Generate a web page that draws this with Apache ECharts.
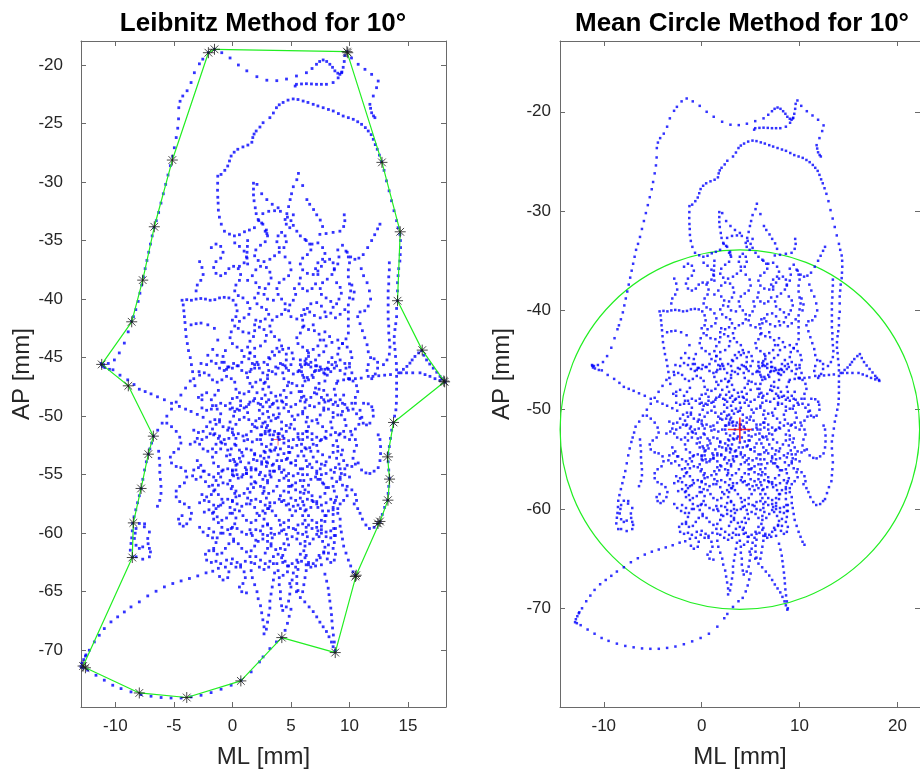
<!DOCTYPE html>
<html>
<head>
<meta charset="utf-8">
<script src="https://cdn.jsdelivr.net/npm/echarts@6/dist/echarts.min.js"></script>
<style>
html, body { margin: 0; padding: 0; background: #fff; }
#chart { width: 920px; height: 776px; }
</style>
</head>
<body>
<div id="chart"></div>
<script>
// sway path pieces: flat lists x,y,x,y,... in mm
let topArc = [-1.53,-18.66, -2.05,-18.95, -2.53,-19.5, -2.82,-19.9, -3.25,-20.66, -3.53,-21.5, -3.87,-22.2, -4.24,-22.65, -4.47,-23.1, -4.58,-23.65, -4.6,-24.6, -4.67,-25.4, -4.8,-26.2, -4.96,-27.07, -5.1,-27.8, -5.3,-28.6, -5.5,-29.4, -5.7,-30.2, -5.9,-31.0, -6.1,-31.8, -6.3,-32.6, -6.5,-33.3, -6.7,-33.9, -6.85,-34.6, -7.0,-35.3, -7.15,-36.0, -7.3,-36.7, -7.45,-37.4, -7.6,-38.1, -7.75,-38.8, -7.9,-39.5, -8.05,-40.2, -8.25,-40.9, -8.45,-41.5, -8.6,-41.9, -8.9,-42.8, -9.23,-43.76, -9.66,-44.6, -10.08,-45.2, -10.6,-45.5, -11.0,-45.6, -11.16,-45.58, -11.2,-45.5, -11.1,-45.75, -10.9,-45.85, -10.5,-46.0, -10.2,-46.04, -9.6,-46.5, -8.94,-46.9, -8.4,-47.3, -7.95,-47.7, -7.45,-47.9, -6.95,-48.1, -6.4,-48.35, -5.81,-48.6, -5.2,-48.9, -4.53,-49.17, -4.0,-49.4, -3.53,-49.6, -3.0,-49.85, -2.5,-50.1]
let topRight = [-0.91,-18.95, -0.2,-19.4, 0.51,-20.0, 1.23,-20.5, 2.09,-21.0, 2.94,-21.3, 3.79,-21.34, 4.62,-21.2, 5.47,-20.94, 6.32,-20.66, 6.8,-20.3, 7.18,-19.94, 7.45,-19.7, 7.75,-19.57, 8.05,-19.7, 8.32,-19.94, 8.55,-20.2, 8.75,-20.5, 9.0,-20.7, 9.18,-20.8, 9.35,-20.6, 9.46,-20.2, 9.55,-19.7, 9.6,-19.2, 9.78,-18.86, 10.17,-19.4, 10.74,-19.94, 11.32,-20.37, 11.89,-20.8, 12.45,-21.37, 12.31,-21.94, 12.03,-22.65, 11.74,-23.36, 11.8,-23.7, 11.89,-24.08, 12.05,-24.35, 12.17,-24.5, 9.32,-20.66, 9.03,-21.1, 8.6,-21.5, 8.03,-21.65, 7.6,-21.65, 7.18,-21.65, 6.75,-21.62, 6.32,-21.6, 5.9,-21.62, 5.47,-21.65, 5.36,-21.8]
let innerLoop = [2.5,-33.5, 1.88,-33.9, 1.45,-34.1, 1.03,-34.25, 0.6,-34.5, 0.17,-34.6, -0.25,-34.45, -0.68,-34.2, -0.95,-33.6, -1.11,-33.0, -1.2,-32.4, -1.22,-31.8, -1.25,-31.3, -1.27,-30.7, -1.26,-30.1, -1.25,-29.5, -0.97,-29.35, -0.65,-29.0, -0.4,-28.63, -0.25,-28.2, -0.11,-27.78, 0.15,-27.45, 0.46,-27.2, 0.9,-27.0, 1.32,-26.84, 1.66,-26.6, 1.74,-26.2, 1.85,-25.9, 2.03,-25.64, 2.35,-25.3, 2.62,-24.93, 3.2,-24.5, 3.5,-24.1, 3.76,-23.65, 4.0,-23.4, 4.33,-23.2, 4.75,-23.0, 5.19,-22.9, 5.6,-22.95, 6.04,-23.08, 6.45,-23.2, 6.9,-23.36, 7.3,-23.5, 7.75,-23.65, 8.2,-23.8, 8.61,-23.93, 9.05,-24.15, 9.46,-24.36, 9.9,-24.5, 10.32,-24.64, 10.7,-24.85, 11.03,-25.07, 11.35,-25.35, 11.6,-25.64, 11.85,-25.95, 12.03,-26.35, 12.2,-26.8, 12.37,-27.2, 12.55,-27.7, 12.74,-28.26, 12.95,-29.0, 13.16,-29.9, 13.38,-30.75, 13.59,-31.6, 13.8,-32.45, 14.02,-33.3, 14.15,-33.9, 14.3,-34.47, 14.35,-35.0, 14.36,-35.6, 14.33,-36.2, 14.3,-36.75, 14.2,-37.4, 14.15,-38.0, 14.1,-38.6, 14.1,-39.3, 14.1,-40.14, 14.02,-40.8, 14.02,-41.5, 13.95,-42.1, 13.88,-42.6, 13.82,-43.2, 13.82,-43.76, 13.88,-44.3, 13.93,-44.9, 14.0,-45.5, 14.02,-46.04, 14.02,-46.6, 14.02,-47.18, 14.02,-47.7, 14.02,-48.3, 14.0,-48.9, 13.96,-49.46, 13.85,-50.0, 13.73,-50.6, 13.6,-51.2, 13.5,-51.9, 13.4,-52.6, 13.3,-53.2, 13.3,-53.9, 13.35,-54.6, 13.4,-55.3, 13.35,-56.0, 13.3,-56.6, 13.25,-57.2, 13.0,-57.8, 12.8,-58.4, 12.6,-59.0]
let topKnots = [1.8,-30.1, 2.1,-30.2, 2.5,-31.0, 2.94,-31.5, 3.4,-31.9, 3.9,-32.2, 1.8,-30.6, 1.8,-31.1, 1.85,-31.6, 1.95,-32.2, 2.03,-32.7, 2.25,-33.3, 2.8,-34.2, 2.94,-34.4, 5.64,-29.26, 5.5,-29.8, 5.2,-30.4, 5.05,-31.0, 4.93,-31.5, 4.8,-32.1, 4.65,-32.7, 4.5,-33.2, 4.6,-33.6, 4.9,-33.9, 5.2,-33.7, 5.0,-33.3, 4.7,-33.0, 2.6,-32.7, 3.1,-32.5, 3.6,-32.45, 4.1,-32.5, 5.2,-32.8, 6.0,-30.3, 6.36,-31.5, 6.6,-31.9, 6.93,-32.35, 7.2,-32.8, 7.5,-33.25, 7.7,-33.8, 7.47,-34.47, 8.0,-34.4, 8.6,-34.3, 9.18,-34.2, 9.5,-33.8, 9.6,-33.3, 9.55,-32.8, 12.6,-33.6, 12.4,-34.0, 12.15,-34.5, 11.89,-35.0, 11.55,-35.6, 11.17,-36.2, 10.8,-36.5, 10.46,-36.6, 10.1,-36.4, 9.8,-36.0, 1.3,-35.0, 1.28,-35.5, 1.25,-36.0, 1.25,-36.5, 1.3,-37.0]
let rightTrip = [9.0,-47.0, 9.5,-46.9, 10.0,-46.85, 10.5,-46.8, 11.0,-46.75, 12.0,-46.6, 12.5,-46.55, 13.0,-46.5, 13.5,-46.45, 14.4,-46.3, 14.87,-46.3, 15.4,-46.3, 16.02,-46.3, 16.45,-46.45, 16.87,-46.6, 17.3,-46.8, 17.73,-46.95, 18.15,-47.1, 18.1,-47.0, 17.9,-46.8, 17.73,-46.6, 17.45,-46.25, 17.15,-45.9, 16.85,-45.55, 16.58,-45.2, 16.35,-44.8, 16.16,-44.4, 15.9,-44.6, 15.59,-44.9, 15.35,-45.2, 15.16,-45.47, 14.9,-45.75, 14.6,-46.0, 14.2,-46.3]
let rightBits = [10.7,-41.5, 10.9,-42.1, 11.1,-42.7, 11.3,-43.3, 11.5,-43.9, 11.6,-44.5, 11.8,-45.0, 12.1,-45.1, 12.4,-45.4, 12.4,-45.9, 12.2,-46.4, 11.9,-46.8, 11.6,-46.6, 11.5,-46.1, 11.6,-45.6, 13.4,-36.9, 13.4,-37.5, 13.35,-38.1, 13.35,-38.7, 13.3,-39.3, 13.3,-39.9, 13.3,-40.5, 13.3,-41.1, 13.3,-41.7, 13.35,-42.3, 13.35,-42.9, 13.4,-43.5, 13.45,-44.1, 13.4,-44.7, 13.2,-45.2, 12.9,-45.6, 10.5,-48.9, 10.9,-49.5, 11.05,-50.1, 11.17,-50.6, 11.45,-50.75, 11.74,-50.6, 12.03,-50.0, 12.0,-49.5, 11.9,-49.2, 11.6,-48.95, 11.2,-48.9, 10.74,-54.0, 11.03,-54.6, 11.4,-54.85, 11.74,-54.9, 12.1,-54.7, 12.45,-54.4, 12.6,-53.8, 12.65,-53.2, 12.65,-52.6, 12.6,-52.0, 12.45,-51.6, 9.2,-59.4, 9.3,-59.9, 9.4,-60.5, 9.5,-61.1, 9.7,-61.7, 9.9,-62.3, 10.1,-62.8, 10.3,-63.3, 10.5,-63.6, 10.4,-57.5, 10.7,-57.9, 10.9,-58.3, 11.1,-58.8, 11.4,-59.3, 11.7,-59.6, 12.1,-59.5, 12.4,-59.2, 8.6,-57.8, 8.6,-58.4, 8.6,-59.0, 8.65,-59.6, 8.7,-60.2, 8.7,-60.8, 10.2,-51.6, 10.5,-52.0, 10.6,-52.5, 10.4,-53.0, 10.3,-53.6, 10.5,-54.1, 9.8,-56.0, 10.2,-56.3, 10.5,-56.7, 10.6,-57.2]
let lowArc = [-12.93,-71.4, -12.85,-71.1, -12.7,-70.8, -12.55,-70.5, -12.75,-71.5, -12.36,-71.7, -11.65,-72.14, -10.94,-72.56, -10.22,-72.99, -9.51,-73.28, -8.66,-73.56, -7.8,-73.79, -6.95,-73.93, -6.09,-74.04, -5.24,-74.08, -4.38,-74.08, -3.53,-73.99, -2.68,-73.85, -1.82,-73.62, -0.97,-73.33, -0.11,-72.99, 0.74,-72.56, 1.6,-71.85, 2.31,-71.0, 2.62,-70.57, 3.2,-69.86, 3.76,-69.29, 4.19,-68.95, 4.5,-68.3, 4.7,-67.7, 4.85,-67.1, 5.0,-66.5]
let leftArc = [-12.5,-70.4, -12.22,-70.0, -11.79,-69.29, -11.37,-68.72, -10.94,-68.15, -10.37,-67.58, -9.8,-67.15, -9.23,-66.73, -8.66,-66.3, -7.95,-65.87, -7.23,-65.36, -6.52,-64.96, -5.81,-64.59, -5.09,-64.3, -4.38,-64.08, -3.67,-63.87, -2.96,-63.65, -2.25,-63.39, -1.68,-63.25, -1.2,-63.0]
let leftHooks = [-8.52,-59.17, -8.55,-59.8, -8.6,-60.4, -8.66,-60.88, -8.72,-61.45, -8.52,-62.02, -8.23,-62.02, -7.66,-62.22, -7.09,-62.02, -7.0,-61.6, -7.09,-61.3, -7.2,-60.9, -7.23,-60.45, -7.66,-61.17, -7.95,-61.3, -8.23,-61.03, -8.37,-60.45, -8.3,-60.0, -8.23,-59.6, -7.52,-59.46, -7.09,-59.9, -7.5,-59.2, -7.95,-59.17, -6.75,-51.71, -6.9,-52.3, -7.05,-52.8, -7.18,-53.25, -7.35,-53.9, -7.5,-54.6, -7.65,-55.4, -7.8,-56.18, -7.95,-56.8, -8.1,-57.4, -8.25,-58.0, -8.4,-58.6, -6.38,-51.2, -6.0,-50.6, -5.6,-50.0, -5.2,-49.4, -4.8,-48.8, -4.4,-48.2, -4.0,-47.6, -3.6,-47.0, -6.3,-53.0, -6.25,-53.6, -6.2,-54.2, -6.2,-54.8, -6.15,-55.4, -6.1,-56.0, -6.1,-56.6, -6.2,-57.2, -6.4,-57.7]
let fingers = [1.6,-63.2, 1.7,-63.8, 1.9,-64.4, 2.1,-65.0, 2.2,-65.6, 2.4,-66.2, 2.5,-66.8, 2.6,-67.4, 2.7,-68.0, 2.7,-68.6, 2.9,-68.2, 3.0,-67.6, 3.1,-67.0, 3.2,-66.4, 3.2,-65.8, 3.3,-65.2, 3.4,-64.6, 3.5,-64.0, 3.6,-63.4, 3.8,-62.6, 3.9,-63.2, 4.0,-63.8, 4.0,-64.4, 4.1,-65.0, 4.1,-65.6, 4.2,-66.2, 4.3,-66.6, 4.6,-66.3, 4.8,-65.8, 4.9,-65.2, 5.0,-64.6, 5.1,-64.0, 5.2,-63.4, 5.4,-62.9, 5.6,-62.5, 5.6,-63.1, 5.5,-63.7, 5.5,-64.3, 5.6,-64.9, 5.8,-65.5, 6.0,-65.0, 6.1,-64.4, 6.2,-63.8, 6.3,-63.2, 6.5,-62.7, 4.33,-63.6, 4.9,-64.3, 5.47,-65.0, 6.18,-65.87, 6.55,-66.3, 6.9,-66.7, 7.2,-67.15, 7.47,-67.6, 7.75,-68.0, 8.03,-68.4, 8.25,-68.85, 8.46,-69.3, 8.6,-69.7, 8.75,-70.14, 8.8,-70.0, 7.6,-62.7, 7.9,-63.5, 8.05,-64.1, 8.18,-64.7, 8.25,-65.25, 8.32,-65.8, 8.4,-66.4, 8.46,-66.96, 8.5,-67.5, 8.55,-68.1, 8.62,-68.7, 8.7,-69.3]
let upperA = [-4.3,-40.1, -3.9,-40.05, -3.5,-40.1, -3.1,-40.0, -2.7,-39.95, -2.3,-40.0, -1.9,-40.1, -1.5,-40.05, -1.1,-39.9, -0.7,-39.85, -0.3,-39.9, 0.06,-40.1, 0.3,-40.5, 0.4,-41.0, 0.3,-41.5, 0.0,-41.8, -4.2,-40.5, -4.15,-41.0, -4.1,-41.5, -4.05,-42.0, -4.0,-42.6, -3.95,-43.2, -3.85,-43.8, -3.75,-44.4, -3.6,-45.0, -3.5,-45.6, -3.4,-46.2, -3.3,-46.8, -3.2,-47.4, -3.53,-42.2, -3.1,-42.1, -2.68,-42.05, -2.1,-42.2, -1.54,-42.5, -1.25,-43.5, -1.68,-44.3, -2.1,-44.8, -2.68,-45.5, -2.85,-46.2, -1.3,-44.8, -0.9,-45.4, -0.5,-46.0, -0.1,-46.8, 0.3,-47.7, -1.8,-35.6, -1.4,-35.3, -1.0,-35.5, -0.8,-36.0, -1.0,-36.5, -1.4,-36.8, -1.6,-37.3, -1.4,-37.8, -1.0,-38.0, -0.6,-37.8, -0.3,-37.4, 0.1,-37.2, 0.5,-37.4, 0.7,-37.9, 0.6,-38.4, 0.3,-38.8, 0.2,-39.3, 0.5,-39.7, 0.9,-39.9, 1.3,-40.3, 1.5,-40.8, 1.4,-41.3, 1.0,-41.6, 0.6,-41.9, 0.2,-42.3, -0.1,-42.8, -0.2,-43.3, 0.0,-43.8, 0.4,-44.1, 0.8,-44.4, 1.0,-44.9, 0.8,-45.4, 0.4,-45.7, 0.0,-45.9, -0.4,-45.8, -0.7,-45.4, -0.8,-44.9, -0.6,-44.4]
let upperB = [2.2,-33.2, 2.6,-33.6, 2.9,-34.1, 3.0,-34.6, 2.8,-35.1, 2.4,-35.4, 2.0,-35.8, 1.9,-36.3, 2.2,-36.7, 2.7,-36.8, 3.2,-36.6, 3.6,-36.3, 4.0,-36.0, 4.4,-35.6, 4.6,-35.1, 4.5,-34.6, 4.2,-34.3, 3.9,-34.6, 3.8,-35.1, 4.0,-35.6, 4.5,-36.4, 4.9,-36.9, 5.0,-37.5, 4.8,-38.0, 4.4,-38.3, 4.0,-38.6, 3.8,-39.1, 3.9,-39.6, 4.2,-40.0, 4.5,-40.4, 4.5,-40.9, 4.2,-41.3, 3.8,-41.5, 3.4,-41.8, 3.2,-42.3, 3.3,-42.8, 3.6,-43.2, 4.0,-43.5, 4.2,-44.0, 4.0,-44.5, 3.6,-44.8, 3.2,-45.1, 3.0,-45.6, 3.1,-46.1, 0.5,-42.5, 0.9,-42.8, 1.4,-42.9, 1.9,-42.7, 2.3,-42.4, 2.7,-42.6, 2.9,-43.1, 2.8,-43.6, 2.4,-44.0, 1.9,-44.2, 1.5,-44.6, 1.4,-45.1, 1.7,-45.5, 2.2,-45.6, 2.7,-45.4, 3.1,-45.0, 3.4,-44.5, 3.8,-44.2, 4.3,-44.3, 4.6,-44.7, 4.6,-45.2, 4.3,-45.6, 3.9,-45.9, 3.7,-46.4, 0.2,-35.2, 0.6,-35.5, 1.0,-35.9, 1.2,-36.4, 1.0,-36.9, 0.6,-37.2, 1.3,-38.4, 1.7,-38.0, 2.0,-37.5, 2.4,-37.2, 2.9,-37.3, 3.2,-37.7, 3.3,-38.2, 3.1,-38.7, 2.8,-39.1, 2.7,-39.6, 3.0,-40.0, 3.5,-40.1]
let upperC = [5.5,-34.2, 5.8,-34.6, 6.2,-34.9, 6.6,-35.3, 6.7,-35.8, 6.4,-36.2, 6.0,-36.5, 5.8,-37.0, 6.0,-37.5, 6.4,-37.8, 6.9,-37.9, 7.3,-37.6, 7.6,-37.2, 7.9,-36.8, 8.3,-36.6, 8.6,-36.9, 8.7,-37.4, 8.5,-37.9, 8.1,-38.3, 7.7,-38.6, 7.5,-39.1, 7.6,-39.6, 8.0,-39.9, 8.4,-40.2, 8.6,-40.7, 8.4,-41.2, 8.0,-41.5, 7.5,-41.6, 7.0,-41.4, 6.6,-41.1, 6.2,-41.3, 6.0,-41.8, 6.1,-42.3, 6.5,-42.6, 7.0,-42.7, 7.4,-43.0, 7.5,-43.5, 7.3,-44.0, 6.9,-44.3, 6.5,-44.6, 6.3,-45.1, 6.5,-45.6, 9.4,-35.4, 9.7,-35.9, 9.9,-36.4, 10.0,-36.9, 9.9,-37.5, 9.9,-38.1, 10.0,-38.7, 10.1,-39.3, 10.0,-39.9, 9.9,-40.5, 9.9,-41.1, 9.9,-41.7, 9.9,-42.3, 9.9,-42.9, 9.7,-43.4, 9.4,-43.8, 9.1,-44.2, 9.0,-44.7, 9.2,-45.2, 9.6,-45.5, 10.0,-45.8, 10.2,-46.3, 10.0,-46.8, 6.3,-35.0, 6.8,-35.3, 7.3,-35.2, 7.7,-35.6, 7.9,-36.1, 7.7,-36.6, 7.3,-36.9, 7.1,-37.4, 7.3,-37.9, 8.7,-37.5, 9.0,-37.0, 9.1,-36.4, 9.0,-35.8, 10.2,-38.8, 10.4,-39.4, 10.3,-40.0, 9.6,-40.9, 9.2,-41.3, 8.8,-41.6, 7.9,-41.1, 7.6,-40.6, 7.2,-40.3, 6.7,-40.4, 6.4,-40.8, 6.9,-42.2, 7.9,-42.8, 8.3,-43.2, 8.5,-43.7, 5.3,-39.1, 5.4,-39.6, 5.2,-40.1, 4.9,-40.5, 4.8,-41.0, 5.0,-41.5, 5.5,-41.7, 5.9,-41.4, 6.1,-40.9, 6.0,-42.4, 5.8,-42.9, 5.5,-43.3, 5.6,-43.8, 6.0,-44.1, 6.4,-44.4, 6.5,-44.9, 6.2,-45.3, 5.8,-45.6, 5.7,-46.1, 6.0,-46.5, 6.4,-46.7, 6.8,-46.5, 7.1,-46.1, 7.5,-45.8, 7.9,-46.0, 8.1,-46.5, 7.9,-47.0]
let upperD = [2.0,-38.6, 2.3,-39.0, 2.2,-39.5, 1.9,-39.9, 2.1,-40.4, 2.5,-40.7, 2.9,-40.9, 3.1,-41.3, 2.8,-41.7, 2.4,-41.9, 2.0,-41.8, 1.9,-42.2, 5.8,-38.2, 5.7,-38.7, 6.0,-39.1, 6.4,-39.3, 6.8,-39.1, 7.1,-38.7, 8.9,-38.6, 9.2,-39.0, 9.3,-39.5, 9.1,-40.0, 8.9,-40.4, 11.0,-37.4, 11.2,-38.0, 11.5,-38.6, 11.7,-39.3, 11.8,-40.0, 11.6,-40.6, 11.3,-41.0, 10.9,-41.1, -2.8,-36.8, -2.6,-37.3, -2.5,-37.9, -2.7,-38.4, -3.0,-38.8, -3.1,-39.3]
let midRows = [-2.8,-46.5, -2.4,-46.3, -2.0,-46.5, -1.7,-46.9, -1.3,-47.1, -0.9,-46.9, -0.5,-46.6, 0.2,-47.1, 0.6,-48.0, 1.0,-48.1, 1.4,-47.9, 1.7,-47.5, 2.0,-47.1, 2.4,-46.9, 2.8,-47.1, 3.1,-47.5, 3.3,-48.0, 3.7,-48.3, 4.1,-48.2, 4.4,-47.8, 4.7,-47.4, 5.1,-47.2, 5.5,-47.4, 5.7,-47.9, 5.9,-48.4, 6.3,-48.6, 6.7,-48.4, 7.0,-48.0, 7.4,-47.7, 7.8,-47.8, 8.1,-48.2, 8.4,-48.6, 8.8,-48.8, 9.2,-48.6, 9.5,-48.2, 9.8,-49.3, 9.4,-49.6, 9.0,-49.9, 8.6,-49.7, 8.2,-49.4, 7.8,-49.5, 7.5,-49.9, 7.2,-50.3, 6.8,-50.4, 6.4,-50.1, 6.0,-49.8, 5.6,-49.9, 5.3,-50.3, 5.0,-50.7, 4.6,-50.8, 4.2,-50.5, 3.9,-50.1, 3.5,-49.9, 3.1,-50.1, 2.8,-50.5, 2.5,-50.9, 2.1,-51.0, 1.7,-50.7, 1.4,-50.3, 1.0,-50.1, 0.6,-50.3, 0.3,-50.7, 0.0,-51.1, -0.4,-51.2, -0.8,-50.9, -1.1,-50.5, -1.5,-50.3, -1.9,-50.5, -2.2,-50.9, -2.5,-51.3, -2.9,-51.4, -3.3,-51.2, -3.6,-52.4, -3.2,-52.2, -2.8,-52.4, -2.5,-52.8, -2.1,-53.0, -1.7,-52.8, -1.4,-52.4, -1.0,-52.2, -0.6,-52.4, -0.4,-52.9, -0.5,-53.4, -0.2,-53.8, 0.2,-53.9, 0.6,-53.6, 0.8,-53.1, 1.2,-52.8, 1.6,-52.9, 1.9,-53.3, 2.1,-53.8, 2.5,-54.1, 2.9,-53.9, 3.1,-53.5, 3.3,-53.0, 3.7,-52.7, 4.1,-52.8, 4.4,-53.2, 4.6,-53.7, 5.0,-54.0, 5.4,-53.8, 5.6,-53.4, 5.9,-53.0, 6.3,-52.8, 6.7,-53.0, 6.9,-53.5, 7.2,-53.9, 7.6,-54.1, 8.0,-53.9, 8.3,-53.5, 8.6,-53.1, 9.0,-53.0, 9.3,-53.3, 9.5,-53.8, 9.8,-54.2, 10.2,-54.3]
let lowRows = [10.0,-55.2, 9.6,-55.0, 9.2,-55.2, 8.9,-55.6, 8.6,-56.0, 8.2,-56.1, 7.8,-55.8, 7.5,-55.4, 7.1,-55.2, 6.7,-55.4, 6.5,-55.9, 6.2,-56.3, 5.8,-56.5, 5.4,-56.3, 5.1,-55.9, 4.8,-55.5, 4.4,-55.3, 4.0,-55.5, 3.8,-56.0, 3.5,-56.4, 3.1,-56.6, 2.7,-56.4, 2.4,-56.0, 2.0,-55.7, 1.6,-55.8, 1.3,-56.2, 1.0,-56.6, 0.6,-56.8, 0.2,-56.6, -0.1,-56.2, -0.4,-55.8, -0.8,-55.7, -1.2,-55.9, -1.5,-56.3, -1.8,-56.7, -2.2,-56.9, -2.6,-56.7, -2.4,-58.2, -2.0,-58.0, -1.6,-58.2, -1.3,-58.6, -0.9,-58.9, -0.5,-58.7, -0.2,-58.3, 0.2,-58.0, 0.6,-58.1, 0.9,-58.5, 1.2,-58.9, 1.6,-59.1, 2.0,-58.9, 2.3,-58.5, 2.6,-58.1, 3.0,-57.9, 3.4,-58.1, 3.7,-58.5, 4.0,-58.9, 4.4,-59.1, 4.8,-58.9, 5.1,-58.5, 5.4,-58.1, 5.8,-57.9, 6.2,-58.1, 6.5,-58.5, 6.8,-58.9, 7.2,-59.1, 7.6,-58.9, 7.9,-58.5, 8.2,-58.1, 8.6,-58.0, 9.0,-58.3, 9.2,-58.8, 8.8,-60.2, 8.4,-60.4, 8.0,-60.3, 7.6,-60.0, 7.2,-60.1, 6.9,-60.5, 6.6,-60.9, 6.2,-61.1, 5.8,-60.9, 5.5,-60.5, 5.1,-60.3, 4.7,-60.5, 4.4,-60.9, 4.1,-61.3, 3.7,-61.4, 3.3,-61.1, 3.0,-60.7, 2.6,-60.5, 2.2,-60.7, 1.9,-61.1, 1.6,-61.5, 1.2,-61.6, 0.8,-61.3, 0.5,-60.9, 0.1,-60.7, -0.3,-60.9, -0.6,-61.3, -0.9,-61.7, -1.3,-61.8, -1.6,-61.5]
let extraRows = [-2.2,-45.6, -1.8,-45.3, -1.4,-45.5, -1.1,-45.9, -0.7,-46.1, -0.3,-45.8, 0.1,-45.5, 0.5,-45.7, 0.8,-46.1, 1.2,-46.3, 1.6,-46.0, 1.9,-45.6, 2.3,-45.9, 2.6,-46.3, 3.0,-46.5, 3.4,-46.2, 3.7,-45.8, 4.1,-45.5, 4.5,-45.7, 4.8,-46.1, 5.2,-46.4, 5.6,-46.2, 5.9,-45.8, 6.3,-45.5, 6.7,-45.4, 7.1,-45.7, 7.4,-46.1, 7.8,-46.3, 8.2,-46.0, 8.5,-45.6, 8.9,-45.7, 9.2,-46.1, 9.4,-48.9, 9.0,-49.1, 8.6,-49.0, 8.2,-48.7, 7.8,-48.6, 7.4,-48.9, 7.0,-49.2, 6.6,-49.1, 6.2,-48.8, 5.8,-48.7, 5.4,-49.0, 5.0,-49.2, 4.6,-49.0, 4.2,-48.7, 3.8,-48.7, 3.4,-49.0, 2.6,-49.2, 2.2,-48.9, 1.8,-48.7, 1.4,-49.0, 1.0,-49.3, 0.6,-49.5, 0.2,-49.6, -0.2,-49.4, -0.6,-49.1, -1.0,-48.9, -1.4,-49.1, -1.8,-49.4, -2.2,-49.5, -2.6,-49.3, -3.0,-51.9, -2.6,-52.0, -2.2,-51.8, -1.9,-51.5, -1.5,-51.5, -1.1,-51.7, -0.7,-52.0, -0.3,-51.9, 0.1,-51.6, 0.5,-51.5, 0.9,-51.7, 1.3,-52.0, 1.7,-52.2, 2.1,-52.0, 2.4,-51.6, 2.8,-51.3, 3.2,-51.2, 3.6,-51.3, 4.0,-51.5, 4.4,-51.9, 4.8,-52.1, 5.2,-52.0, 5.6,-51.8, 6.0,-51.5, 6.4,-51.3, 6.8,-51.5, 7.2,-51.8, 7.6,-52.0, 8.0,-51.9, 8.4,-51.6, 8.8,-51.4, 9.2,-51.5, 9.6,-51.8, 10.0,-52.0, 9.2,-54.5, 8.8,-54.4, 8.4,-54.6, 8.0,-54.9, 7.6,-55.0, 7.2,-54.7, 6.8,-54.4, 6.4,-54.3, 6.0,-54.5, 5.6,-54.9, 5.2,-55.1, 4.8,-54.9, 4.4,-54.6, 4.0,-54.5, 3.6,-54.7, 3.2,-55.0, 2.8,-55.1, 2.4,-54.8, 2.0,-54.5, 1.6,-54.6, 1.2,-54.9, 0.8,-55.2, 0.4,-55.0, 0.0,-54.7, -0.4,-54.5, -0.8,-54.6, -1.2,-54.9, -1.6,-55.2, -2.0,-55.0, -2.4,-54.7, -2.8,-57.4, -2.4,-57.2, -2.0,-57.3, -1.6,-57.6, -1.2,-57.7, -0.8,-57.4, -0.4,-57.1, 0.0,-57.2, 0.4,-57.5, 0.8,-57.7, 1.2,-57.5, 1.6,-57.2, 2.0,-57.1, 2.4,-57.3, 2.8,-57.6, 3.2,-57.7, 3.6,-57.4, 4.0,-57.1, 4.4,-57.2, 4.8,-57.5, 5.2,-57.7, 5.6,-57.6, 6.0,-57.3, 6.4,-57.1, 6.8,-57.2, 7.2,-57.5, 7.6,-57.6, 8.0,-57.4, 8.4,-57.1, 8.8,-57.2, 8.8,-59.6, 8.4,-59.8, 8.0,-59.9, 7.6,-59.7, 7.2,-59.5, 6.8,-59.6, 5.2,-59.6, 4.8,-59.5, 4.4,-59.7, 4.0,-60.0, 3.6,-60.1, 2.0,-59.7, 1.6,-60.0, 1.2,-60.1, 0.8,-59.9, 0.4,-59.6, 0.0,-59.5, -0.4,-59.7, -0.8,-60.0, -1.6,-59.9, -2.0,-59.6, -0.5,-62.3, -0.1,-62.6, 0.3,-62.9, 0.7,-62.7, 1.1,-62.4, 1.9,-62.6, 2.3,-62.9, 2.7,-63.1, 3.1,-62.9, 3.5,-62.6, 4.3,-62.5, 4.7,-62.8, 5.1,-62.6, 5.5,-62.3, 5.9,-62.4, 6.3,-62.7, 6.7,-62.9, 7.1,-62.8]
let columns = [1.8,-43.2, 1.5,-43.6, 1.3,-44.1, 1.5,-44.6, 1.9,-44.9, 2.1,-45.4, 1.9,-45.9, 1.5,-46.2, 1.3,-46.7, 1.5,-47.2, 2.1,-48.0, 1.9,-48.5, 1.5,-48.8, 1.2,-49.2, 1.3,-49.7, 2.0,-50.4, 1.9,-50.9, 1.6,-51.3, 1.2,-51.6, 1.0,-52.1, 1.9,-53.2, 1.8,-53.7, 1.4,-54.0, 1.1,-54.4, 1.2,-54.9, 1.6,-55.2, 1.9,-55.6, 1.8,-56.1, 1.5,-56.5, 1.3,-57.0, 1.5,-57.5, 1.9,-57.8, 2.1,-58.3, 1.5,-59.7, 1.7,-60.2, 2.0,-60.6, 1.5,-62.0, 1.6,-62.5, 4.8,-44.2, 5.1,-44.6, 5.2,-45.1, 5.0,-45.6, 4.6,-45.9, 4.3,-46.3, 4.4,-46.8, 4.8,-47.1, 5.0,-48.0, 4.6,-48.4, 4.3,-48.8, 4.4,-49.3, 4.8,-49.6, 5.1,-50.0, 4.2,-51.1, 3.9,-51.5, 4.0,-52.0, 4.4,-52.3, 4.8,-52.6, 4.9,-53.1, 4.2,-53.8, 4.0,-54.3, 4.2,-54.8, 4.6,-55.1, 4.8,-56.0, 4.4,-56.4, 4.1,-56.8, 4.2,-57.3, 4.6,-57.6, 4.9,-58.0, 4.1,-59.3, 4.2,-59.8, 4.6,-60.1, 4.8,-61.0, 4.5,-61.4, 4.3,-61.9, 4.5,-62.4, 4.8,-62.8, 4.7,-63.3, 7.8,-43.5, 8.0,-44.0, 7.8,-44.5, 7.4,-44.8, 7.1,-45.2, 7.2,-45.7, 7.6,-46.0, 7.9,-46.4, 7.4,-47.2, 7.1,-47.6, 7.2,-48.1, 7.6,-48.4, 7.9,-48.8, 7.8,-49.3, 7.3,-50.6, 7.7,-50.9, 8.0,-51.3, 7.9,-51.8, 7.5,-52.1, 7.2,-52.5, 7.3,-53.0, 7.7,-53.3, 7.9,-54.2, 7.5,-54.5, 7.2,-54.9, 7.3,-55.4, 7.7,-55.7, 8.0,-56.1, 7.9,-56.6, 7.5,-56.9, 7.2,-57.3, 7.3,-57.8, 7.7,-58.1, 8.0,-58.5, 7.9,-59.0, 7.6,-59.4, 7.3,-59.8, 7.4,-60.3, 7.7,-60.7, 7.9,-61.2, 7.8,-61.7, 7.5,-62.1, -1.2,-47.8, -1.5,-48.2, -1.8,-48.6, -1.7,-49.1, -1.3,-49.4, -1.0,-49.8, -1.1,-50.3, -1.4,-50.7, -1.7,-51.1, -1.6,-51.6, -1.2,-51.9, -0.9,-52.3, -1.0,-52.8, -1.4,-53.1, -1.7,-53.5, -1.6,-54.0, -1.2,-54.3, -0.9,-54.7, -1.0,-55.2, -1.4,-55.5, -1.7,-55.9, -1.6,-56.4, -1.2,-56.7, -0.9,-57.1, -1.0,-57.6, -1.4,-57.9, -1.7,-58.3, -1.6,-58.8, -1.2,-59.1, -0.9,-59.5, -1.0,-60.0, -1.3,-60.4, 9.3,-49.9, 9.6,-50.3, 9.7,-50.8, 9.5,-51.3, 9.1,-51.6, 8.9,-52.1, 9.0,-52.6, 9.4,-52.9, 9.6,-54.5, 9.3,-54.9, 9.2,-55.4, 9.4,-55.9, 9.7,-56.3, 9.8,-56.8, 9.5,-57.2, 9.2,-57.5, 9.0,-57.9]
let extraCols = [0.1,-50.0, -0.2,-50.5, -0.3,-51.0, 0.0,-51.4, 0.3,-51.9, 0.2,-52.4, -0.1,-52.8, -0.2,-53.3, 0.1,-53.7, 0.4,-54.1, 0.3,-54.6, 0.0,-55.0, -0.2,-55.5, 0.0,-56.0, 0.3,-56.4, 0.3,-56.9, 0.0,-57.3, -0.2,-57.8, 0.0,-58.3, 0.3,-58.7, 0.2,-59.2, -0.1,-59.6, -0.2,-60.1, 0.1,-60.5, 3.0,-46.8, 2.7,-47.2, 2.6,-47.7, 2.8,-48.2, 3.1,-48.6, 2.3,-50.2, 2.6,-50.6, 2.9,-51.0, 2.7,-53.0, 2.4,-53.4, 2.5,-53.9, 2.9,-54.3, 3.2,-54.7, 3.0,-55.7, 2.7,-56.1, 2.6,-56.6, 2.9,-57.0, 3.2,-57.4, 3.1,-57.9, 2.8,-58.3, 2.7,-58.8, 3.0,-59.2, 3.4,-60.4, 3.3,-60.9, 3.0,-61.3, 2.8,-61.7, 6.2,-47.0, 6.0,-47.4, 5.9,-47.9, 6.1,-48.3, 6.2,-49.3, 6.0,-49.6, 6.3,-50.5, 6.5,-50.9, 6.3,-51.3, 6.1,-53.4, 6.3,-53.8, 6.6,-54.1, 6.4,-55.0, 6.1,-55.5, 6.0,-56.0, 6.1,-57.6, 6.0,-58.5, 6.2,-58.9, 6.5,-59.3, 6.4,-60.3, 6.2,-60.7, 6.1,-61.5, 6.3,-61.9, 8.9,-47.2, 8.7,-47.7, 8.8,-48.2, 9.6,-49.0, 9.9,-49.5, 8.6,-50.1, 8.4,-50.5, 8.5,-51.0, 8.6,-52.5, 8.9,-53.6, 9.1,-54.1, 8.7,-54.8, 8.5,-55.3, 8.7,-56.4, 8.9,-56.9, 8.7,-57.4]
let curls = [2.5,-48.5, 2.9,-48.8, 3.2,-49.2, 3.0,-49.6, 2.6,-49.8, 2.3,-49.5, 2.4,-49.0, 3.5,-48.9, 3.9,-49.3, 4.0,-49.8, 3.7,-50.2, 3.3,-50.4, 3.0,-50.8, 3.1,-51.3, 3.5,-51.6, 3.9,-51.8, 4.3,-51.7, 4.6,-51.3, 4.9,-51.0, 5.3,-51.1, 5.6,-51.5, 5.7,-52.0, 5.5,-52.5, 5.1,-52.7, 4.8,-53.1, 4.7,-53.6, 5.0,-54.0, 5.4,-54.2, 5.8,-54.5, 6.0,-55.0, 5.8,-55.5, 5.4,-55.7, 5.0,-56.0, 4.8,-56.5, 5.0,-57.0, 5.4,-57.2, 5.8,-57.0, 6.1,-56.6, 6.5,-56.5, 6.8,-56.8, 6.9,-57.3, 6.7,-57.8, 6.3,-58.0, 0.3,-52.5, 0.6,-52.9, 0.9,-53.4, 0.7,-53.9, 0.3,-54.2, 0.0,-54.6, 0.1,-55.1, 0.5,-55.3, 0.9,-55.0, 1.2,-54.6, 1.6,-54.4, 2.0,-54.6, 2.3,-55.0, 2.6,-55.4, 3.0,-55.5, 3.3,-55.2, 3.5,-54.7, 3.4,-54.2, 3.0,-54.0, 2.7,-53.6, 2.8,-53.1, 3.2,-52.9, 3.6,-52.9, 3.9,-53.3, 3.8,-53.8, 3.5,-54.1, 2.8,-51.5, 3.2,-51.6, 3.4,-52.0, 3.3,-52.4, 2.9,-52.6, 2.5,-52.4, 2.4,-52.0, 2.5,-51.6, 6.0,-52.0, 6.4,-51.8, 6.8,-52.0, 6.9,-52.4, 6.6,-52.7, 6.2,-52.7, 5.9,-52.4, 0.0,-48.5, 0.4,-48.4, 0.7,-48.7, 0.7,-49.1, 0.4,-49.4, 0.0,-49.3, -0.2,-48.9, 5.6,-59.3, 6.0,-59.2, 6.3,-59.5, 6.3,-59.9, 6.0,-60.1, 5.6,-60.0, 5.4,-59.7, 2.6,-59.4, 3.0,-59.3, 3.3,-59.6, 3.3,-60.0, 3.0,-60.2, 2.6,-60.1, 2.4,-59.8, 5.8,-45.2, 6.2,-45.6, 6.7,-45.8, 7.0,-46.2, 6.9,-46.7, 6.5,-46.9, 6.1,-46.7, 5.9,-46.2, 8.5,-45.0, 8.8,-45.4, 8.7,-45.9, 8.4,-46.2, 8.1,-45.9, 8.2,-45.4, 9.0,-43.5, 9.4,-43.8, 9.8,-44.1, 10.1,-44.5, 10.2,-45.0, 10.0,-45.5, 9.7,-45.9, 9.6,-46.4, 9.9,-46.8, 10.3,-47.0, 10.6,-47.4, 10.7,-47.9, 10.5,-48.4, 10.2,-48.9, 10.3,-49.4, 10.6,-49.8, 10.9,-50.2, 10.8,-50.7, 10.5,-51.1, 10.1,-51.3]
let leftSide = [-5.6,-50.6, -5.2,-50.9, -4.8,-51.3, -4.5,-51.8, -4.4,-52.3, -4.6,-52.8, -5.0,-53.1, -5.3,-53.5, -5.2,-54.0, -4.8,-54.3, -4.4,-54.4, -4.0,-54.7, -3.9,-55.2, -4.1,-55.7, -4.5,-56.0, -4.8,-56.4, -4.8,-56.9, -4.5,-57.3, -4.1,-57.5, -3.7,-57.8, -3.5,-58.3, -3.6,-58.8, -3.9,-59.2, -4.2,-59.4, -4.5,-59.2, -4.6,-58.8, -4.3,-58.5, -3.0,-53.8, -2.7,-54.2, -2.5,-54.7, -2.7,-55.2, -3.1,-55.4, -3.4,-55.1, -3.3,-54.6, -2.9,-54.4, -2.3,-55.6, -2.0,-56.0, -2.8,-59.5, -2.5,-59.9, -2.1,-60.2, -1.7,-60.4, -1.4,-60.8, -1.6,-61.3, -2.0,-61.5, -2.3,-61.8, -2.2,-62.3, -1.8,-62.5, -1.4,-62.4, -1.0,-62.6, -0.6,-62.9, -0.3,-63.3, -0.4,-63.8, -0.8,-64.0, -1.1,-63.7, 0.0,-62.2, 0.4,-62.5, 0.7,-62.9, 1.0,-63.3, 1.1,-63.8, 0.9,-64.3, 0.6,-64.6, 0.8,-65.0, 1.2,-65.1, 2.0,-62.0, 2.4,-62.3, 2.8,-62.6, 3.2,-62.4, 3.5,-62.0, 3.9,-61.8, 4.2,-62.1, 5.8,-61.8, 6.2,-62.1, 6.5,-62.5, 6.9,-62.6, 7.2,-62.3, 7.4,-61.9, 7.8,-61.6, 8.2,-61.0, 8.6,-61.3, 8.8,-61.8, 8.7,-62.3, 8.4,-62.5, 8.1,-62.2, 8.2,-61.7, -2.6,-48.2, -2.2,-48.0, -2.6,-48.6, -2.9,-48.4]

// Leibnitz 10° sector points, joined in order (last one closes the outline)
let hullPts = [[-1.53,-18.66],[9.78,-18.86],[9.85,-18.95],[12.77,-28.32],[14.33,-34.25],[14.10,-40.14],[16.21,-44.36],[18.12,-47.07],[18.05,-47.0],[13.76,-50.54],[13.25,-53.48],[13.42,-55.38],[13.28,-57.18],[12.60,-59.0],[12.43,-59.17],[10.57,-63.59],[10.5,-63.7],[8.78,-70.2],[4.22,-68.92],[0.72,-72.62],[-3.90,-74.04],[-7.95,-73.65],[-12.55,-71.5],[-12.75,-71.35],[-8.55,-62.08],[-8.46,-59.12],[-7.80,-56.18],[-7.18,-53.25],[-6.75,-51.71],[-8.89,-47.41],[-11.16,-45.58],[-8.60,-41.94],[-7.66,-38.38],[-6.67,-33.82],[-5.13,-28.12],[-2.05,-18.95],[-1.53,-18.66]]
let meanPt = [3.9, -52.0]
let circleR = 18.36

let xTicksL = [-10, -5, 0, 5, 10, 15]
let yTicksL = [-70, -65, -60, -55, -50, -45, -40, -35, -30, -25, -20]
let xTicksR = [-10, 0, 10, 20]
let yTicksR = [-70, -60, -50, -40, -30, -20]

function pairs(flat) {
    let out = []
    for (let i = 0; i < flat.length; i += 2) out.push([flat[i], flat[i + 1]])
    return out
}

let sway = [topArc, topRight, innerLoop, topKnots, rightTrip, rightBits, lowArc, leftArc, leftHooks, fingers,
    upperA, upperB, upperC, upperD, midRows, lowRows, extraRows, columns, extraCols, curls, leftSide].map(pairs).flat()

let font = "'Liberation Sans', Arial, sans-serif"
let axisCol = '#6a6a6a'
let starSym = 'path://M5,0L5,10M0,5L10,5M1.5,1.5L8.5,8.5M1.5,8.5L8.5,1.5'
let plusSym = 'path://M5,0L5,10M0,5L10,5'

function boxAxis(grid, pos, min, max, ticks, extra) {
    let ax = {
        type: 'value', gridIndex: grid, position: pos, min: min, max: max,
        axisLine: { show: true, onZero: false, lineStyle: { color: axisCol, width: 1 } },
        axisTick: { show: true, inside: true, length: 5, customValues: ticks, lineStyle: { color: axisCol } },
        axisLabel: { show: false },
        splitLine: { show: false }
    }
    return Object.assign(ax, extra || {})
}

function labels(ticks, margin) {
    return { show: true, customValues: ticks, color: '#262626', fontSize: 17, fontFamily: font, margin: margin }
}

let nameStyle = { fontSize: 24, color: '#262626', fontFamily: font }

let chart = echarts.init(document.getElementById('chart'))

chart.setOption({
    animation: false,
    title: [
        { text: 'Leibnitz Method for 10°', left: 263, top: 11, textAlign: 'center', padding: 0,
          textStyle: { fontSize: 26, fontWeight: 'bold', color: '#000', fontFamily: font } },
        { text: 'Mean Circle Method for 10°', left: 742, top: 11, textAlign: 'center', padding: 0,
          textStyle: { fontSize: 26, fontWeight: 'bold', color: '#000', fontFamily: font } }
    ],
    grid: [
        { left: 81, top: 41, width: 365, height: 666 },
        { left: 560, top: 41, width: 365, height: 666 }
    ],
    xAxis: [
        boxAxis(0, 'bottom', -12.93, 18.24, xTicksL, { axisLabel: labels(xTicksL, 11), name: 'ML [mm]', nameLocation: 'middle', nameGap: 38, nameTextStyle: nameStyle }),
        boxAxis(0, 'top', -12.93, 18.24, xTicksL),
        boxAxis(1, 'bottom', -14.47, 22.3, xTicksR, { axisLabel: labels(xTicksR, 11), name: 'ML [mm]', nameLocation: 'middle', nameGap: 38, nameTextStyle: nameStyle }),
        boxAxis(1, 'top', -14.47, 22.3, xTicksR)
    ],
    yAxis: [
        boxAxis(0, 'left', -74.85, -17.95, yTicksL, { axisLabel: labels(yTicksL, 18), name: 'AP [mm]', nameLocation: 'middle', nameGap: 44, nameRotate: 90, nameTextStyle: nameStyle }),
        boxAxis(0, 'right', -74.85, -17.95, yTicksL),
        boxAxis(1, 'left', -79.94, -12.87, yTicksR, { axisLabel: labels(yTicksR, 9), name: 'AP [mm]', nameLocation: 'middle', nameGap: 46, nameRotate: 90, nameTextStyle: nameStyle }),
        boxAxis(1, 'right', -79.94, -12.87, yTicksR)
    ],
    series: [
        // left: Leibnitz outline
        {
            type: 'scatter', xAxisIndex: 0, yAxisIndex: 0, data: [meanPt], symbol: plusSym, symbolSize: 12,
            itemStyle: { color: 'transparent', borderColor: '#ff0000', borderWidth: 1, opacity: 0.55 }, z: 1, silent: true
        },
        {
            type: 'scatter', xAxisIndex: 0, yAxisIndex: 0, data: sway, symbol: 'rect', symbolSize: 2.8,
            itemStyle: { color: '#0000ff' }, z: 2, silent: true
        },
        {
            type: 'line', xAxisIndex: 0, yAxisIndex: 0, data: hullPts, symbol: 'none',
            lineStyle: { color: '#22ee22', width: 1.2 }, z: 3, silent: true
        },
        {
            type: 'scatter', xAxisIndex: 0, yAxisIndex: 0, data: hullPts.slice(0, -1), symbol: starSym, symbolSize: 11,
            itemStyle: { color: 'transparent', borderColor: '#1a1a1a', borderWidth: 1, opacity: 0.8 }, z: 4, silent: true
        },
        // right: mean circle
        {
            type: 'custom', xAxisIndex: 2, yAxisIndex: 2, data: [[meanPt[0], meanPt[1], circleR]], z: 1, silent: true,
            renderItem: function (params, api) {
                let c = api.coord([api.value(0), api.value(1)])
                let r = api.size([api.value(2), 0])[0]
                return { type: 'circle', shape: { cx: c[0], cy: c[1], r: r }, style: { fill: 'none', stroke: '#22ee22', lineWidth: 1.2 } }
            }
        },
        {
            type: 'scatter', xAxisIndex: 2, yAxisIndex: 2, data: sway, symbol: 'rect', symbolSize: 2.5,
            itemStyle: { color: '#0000ff' }, z: 2, silent: true
        },
        {
            type: 'scatter', xAxisIndex: 2, yAxisIndex: 2, data: [meanPt], symbol: plusSym, symbolSize: 24,
            itemStyle: { color: 'transparent', borderColor: '#ff0000', borderWidth: 1.6 }, z: 5, silent: true
        }
    ]
})
</script>
</body>
</html>
